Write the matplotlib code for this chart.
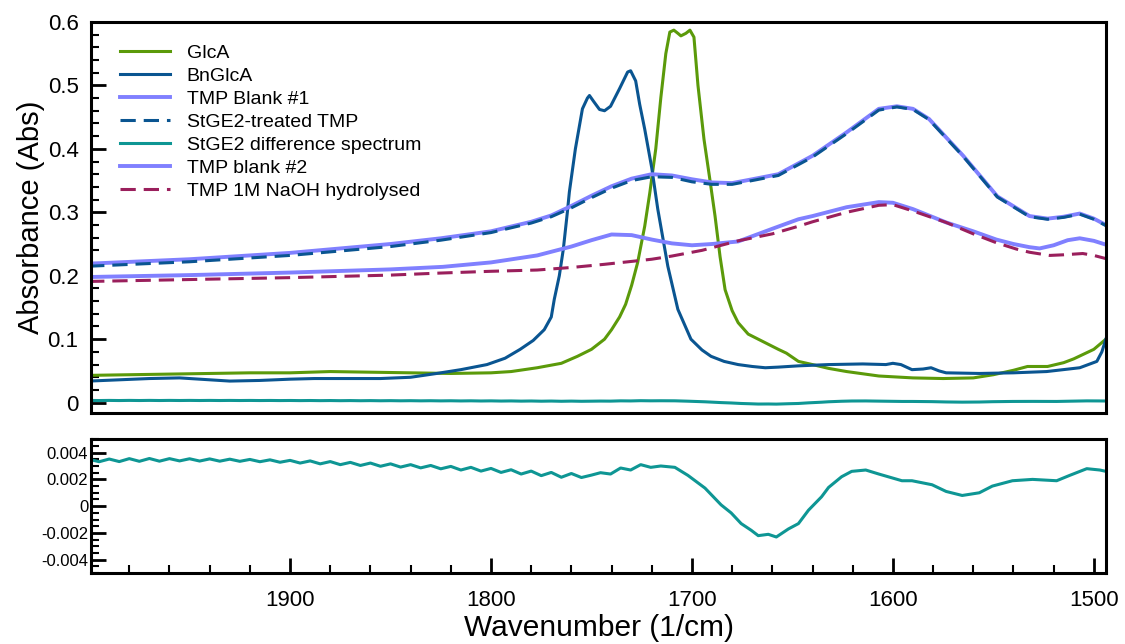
import numpy as np
import matplotlib
matplotlib.use("Agg")
import matplotlib.pyplot as plt
from matplotlib.ticker import MultipleLocator, FuncFormatter

plt.rcParams['font.family'] = ['Liberation Sans', 'DejaVu Sans']

# --- spectra (wavenumber in 1/cm, absorbance) ---
glca_wn = [2000, 1980, 1960, 1940, 1920, 1900, 1880, 1860, 1840, 1820, 1800, 1790, 1777,
           1765, 1757, 1750, 1743.5, 1740, 1736, 1733, 1730, 1727, 1723.5, 1721, 1718,
           1715.5, 1713, 1711, 1709, 1707, 1705.5, 1703, 1701, 1699, 1697, 1694, 1691,
           1688.5, 1686, 1683.5, 1680, 1677, 1672, 1667, 1662, 1657, 1653, 1647, 1640,
           1632, 1623, 1607, 1590, 1575, 1560, 1550, 1540, 1533, 1523, 1515, 1510, 1500,
           1497, 1494]
glca_abs = [0.043, 0.044, 0.045, 0.046, 0.047, 0.047, 0.049, 0.048, 0.047, 0.046, 0.047,
            0.049, 0.055, 0.062, 0.073, 0.084, 0.100, 0.115, 0.135, 0.155, 0.185, 0.221,
            0.278, 0.330, 0.400, 0.480, 0.550, 0.584, 0.587, 0.582, 0.578, 0.582, 0.587,
            0.576, 0.500, 0.415, 0.350, 0.294, 0.230, 0.178, 0.145, 0.126, 0.108, 0.100,
            0.092, 0.084, 0.078, 0.065, 0.060, 0.054, 0.049, 0.042, 0.039, 0.038, 0.039,
            0.044, 0.051, 0.057, 0.057, 0.063, 0.069, 0.084, 0.092, 0.100]

bn_wn = [2000, 1985, 1970, 1955, 1940, 1930, 1915, 1900, 1888, 1870, 1855, 1840, 1827,
         1815, 1802, 1793, 1785.5, 1779, 1773.5, 1770, 1768.5, 1766, 1764, 1762, 1761,
         1758, 1754.5, 1752, 1751, 1749, 1746, 1743.5, 1740.5, 1736, 1732, 1730.5, 1728,
         1726, 1723.5, 1720, 1717, 1712, 1707, 1700.5, 1695, 1690.5, 1684, 1677, 1670,
         1663.5, 1657, 1647, 1632, 1615, 1603.5, 1600, 1596, 1590.5, 1585, 1581, 1577,
         1573.5, 1557, 1540, 1523.5, 1507, 1498.5, 1496, 1494]
bn_abs = [0.034, 0.036, 0.038, 0.039, 0.036, 0.034, 0.035, 0.037, 0.038, 0.038, 0.038,
          0.040, 0.046, 0.052, 0.060, 0.070, 0.084, 0.098, 0.115, 0.135, 0.163, 0.200,
          0.242, 0.300, 0.332, 0.400, 0.463, 0.480, 0.484, 0.475, 0.462, 0.460, 0.467,
          0.495, 0.521, 0.523, 0.507, 0.470, 0.431, 0.370, 0.305, 0.215, 0.147, 0.100,
          0.083, 0.073, 0.065, 0.060, 0.057, 0.055, 0.056, 0.058, 0.060, 0.061, 0.060,
          0.062, 0.060, 0.052, 0.053, 0.055, 0.050, 0.047, 0.046, 0.047, 0.049, 0.055,
          0.065, 0.080, 0.100]

blank1_wn = [2000, 1950, 1900, 1850, 1825, 1800, 1780, 1770, 1760, 1750, 1740, 1730,
             1720, 1710, 1700, 1690, 1680, 1670, 1657, 1640, 1623, 1607, 1598, 1590,
             1582, 1565, 1548, 1532, 1523, 1515, 1507, 1500, 1494]
blank1_abs = [0.219, 0.226, 0.236, 0.250, 0.259, 0.270, 0.285, 0.295, 0.310, 0.326,
              0.341, 0.353, 0.360, 0.358, 0.352, 0.347, 0.346, 0.352, 0.360, 0.389,
              0.426, 0.463, 0.467, 0.463, 0.447, 0.389, 0.325, 0.294, 0.290, 0.293,
              0.298, 0.290, 0.280]

treated_wn = blank1_wn
treated_abs = [0.215, 0.222, 0.232, 0.246, 0.256, 0.268, 0.283, 0.293, 0.307, 0.323,
               0.338, 0.350, 0.356, 0.355, 0.348, 0.344, 0.344, 0.350, 0.358, 0.387,
               0.424, 0.461, 0.466, 0.462, 0.446, 0.388, 0.324, 0.293, 0.289, 0.292,
               0.297, 0.289, 0.279]

blank2_wn = [2000, 1950, 1900, 1850, 1824, 1800, 1777, 1760, 1750, 1740, 1730, 1720,
             1710, 1700, 1690, 1677, 1660, 1647, 1640, 1623, 1607, 1600, 1590, 1573.5,
             1560, 1548.5, 1540, 1532, 1527, 1520, 1513, 1507, 1500, 1494]
blank2_abs = [0.198, 0.201, 0.205, 0.210, 0.214, 0.221, 0.232, 0.246, 0.256, 0.265,
              0.264, 0.257, 0.251, 0.248, 0.250, 0.254, 0.274, 0.289, 0.294, 0.308,
              0.316, 0.315, 0.305, 0.284, 0.270, 0.257, 0.250, 0.245, 0.243, 0.248,
              0.256, 0.259, 0.255, 0.249]

naoh_wn = [2000, 1950, 1900, 1850, 1827, 1800, 1777, 1760, 1743.5, 1720, 1710, 1695,
           1677, 1660, 1647, 1640, 1623, 1607, 1600, 1590, 1573.5, 1560, 1548.5, 1538.5,
           1532, 1522, 1515, 1505.5, 1500, 1494]
naoh_abs = [0.191, 0.194, 0.197, 0.201, 0.204, 0.207, 0.209, 0.213, 0.218, 0.226,
            0.231, 0.240, 0.255, 0.266, 0.278, 0.285, 0.300, 0.311, 0.312, 0.302,
            0.284, 0.266, 0.252, 0.242, 0.237, 0.232, 0.233, 0.235, 0.232, 0.227]

# StGE2 difference spectrum
diff_wn = [2000, 1995, 1990, 1985, 1980, 1975, 1970, 1965, 1960, 1955, 1950, 1945, 1940,
           1935, 1930, 1925, 1920, 1915, 1910, 1905, 1900, 1895, 1890, 1885, 1880, 1875,
           1870, 1865, 1860, 1855, 1850, 1845, 1840, 1835, 1830, 1825, 1820, 1815, 1810,
           1805, 1800, 1795, 1790, 1785, 1780, 1775, 1770, 1765, 1760, 1755, 1750,
           1745.5, 1740.5, 1735.5, 1730.5, 1725.5, 1720.5, 1715.5, 1708.5, 1702, 1693.5,
           1685.5, 1680.5, 1675.5, 1670.5, 1667, 1662, 1658, 1652, 1647, 1642, 1635.5,
           1632, 1625.5, 1620.5, 1613.5, 1607, 1595.5, 1590.5, 1580.5, 1573.5, 1565.5,
           1557, 1550.5, 1540.5, 1530.5, 1518.5, 1512, 1503.5, 1497, 1494]
diff_abs = [0.00350, 0.00332, 0.00352, 0.00333, 0.00355, 0.00335, 0.00356, 0.00336,
            0.00355, 0.00338, 0.00354, 0.00337, 0.00353, 0.00336, 0.00351, 0.00335,
            0.00349, 0.00332, 0.00346, 0.00328, 0.00342, 0.00322, 0.00338, 0.00316,
            0.00333, 0.00310, 0.00327, 0.00304, 0.00322, 0.00298, 0.00316, 0.00292,
            0.00310, 0.00286, 0.00304, 0.00279, 0.00297, 0.00270, 0.00290, 0.00262,
            0.00282, 0.00252, 0.00272, 0.00240, 0.00262, 0.00228, 0.00252, 0.00216,
            0.00244, 0.00214, 0.00232,
            0.0025, 0.0024, 0.00285, 0.0027, 0.0031, 0.0029, 0.0030, 0.0029, 0.0023,
            0.00135, 0.0001, -0.0005, -0.0013, -0.0018, -0.0022, -0.0021, -0.0023,
            -0.0017, -0.0013, -0.0003, 0.0007, 0.0014, 0.0022, 0.0026, 0.0027, 0.0024,
            0.0019, 0.0019, 0.0016, 0.0011, 0.0008, 0.0010, 0.0015, 0.0019, 0.0020,
            0.0019, 0.0023, 0.0028, 0.0027, 0.0026]

c_green = '#5b9a0a'
c_navy = '#0a5591'
c_lilac = '#8080ff'
c_teal = '#0e9694'
c_maroon = '#9a1f5c'

lw = 2.2
dash = (5, 2.6)

fig = plt.figure(figsize=(11.25, 6.44), dpi=100)
ax1 = fig.add_axes([0.081, 0.359, 0.902, 0.607])
ax2 = fig.add_axes([0.081, 0.110, 0.902, 0.208])

ax1.plot(glca_wn, glca_abs, color=c_green, lw=lw, label='GlcA')
ax1.plot(bn_wn, bn_abs, color=c_navy, lw=lw, label='BnGlcA')
ax1.plot(blank1_wn, blank1_abs, color=c_lilac, lw=lw + 0.6, label='TMP Blank #1')
ax1.plot(treated_wn, treated_abs, color=c_navy, lw=lw, dashes=dash,
         label='StGE2-treated TMP')
ax1.plot(diff_wn, diff_abs, color=c_teal, lw=lw, label='StGE2 difference spectrum')
ax1.plot(blank2_wn, blank2_abs, color=c_lilac, lw=lw + 0.6, label='TMP blank #2')
ax1.plot(naoh_wn, naoh_abs, color=c_maroon, lw=lw, dashes=dash,
         label='TMP 1M NaOH hydrolysed')

ax2.plot(diff_wn, diff_abs, color=c_teal, lw=lw)

fmt = FuncFormatter(lambda v, p: '{:g}'.format(round(v, 6)))

for ax in (ax1, ax2):
    ax.set_xlim(1999, 1494)
    for s in ax.spines.values():
        s.set_linewidth(2.2)
    ax.xaxis.set_major_locator(MultipleLocator(100))
    ax.xaxis.set_minor_locator(MultipleLocator(20))
    ax.yaxis.set_major_formatter(fmt)

ax1.set_ylim(-0.016, 0.6)
ax1.yaxis.set_major_locator(MultipleLocator(0.1))
ax1.yaxis.set_minor_locator(MultipleLocator(0.02))
ax1.tick_params(axis='x', which='both', bottom=False, labelbottom=False)
ax1.tick_params(axis='y', which='major', direction='in', length=11, width=2.0,
                labelsize=16, pad=9)
ax1.tick_params(axis='y', which='minor', direction='in', length=6, width=1.5)
ax1.set_ylabel('Absorbance (Abs)', fontsize=21, labelpad=2)

ax2.set_ylim(-0.005, 0.005)
ax2.yaxis.set_major_locator(MultipleLocator(0.002))
ax2.yaxis.set_minor_locator(MultipleLocator(0.0005))
ax2.tick_params(axis='y', which='major', direction='in', length=11, width=2.0,
                labelsize=12, pad=2)
ax2.tick_params(axis='y', which='minor', direction='in', length=6, width=1.5)
ax2.tick_params(axis='x', which='major', direction='in', length=11, width=2.0,
                labelsize=16, pad=12)
ax2.tick_params(axis='x', which='minor', direction='in', length=6, width=1.5)
ax2.set_xlabel('Wavenumber (1/cm)', fontsize=21.5, labelpad=2)

ax1.legend(loc='upper left', bbox_to_anchor=(0.028, 0.943), frameon=False,
           fontsize=14, handlelength=2.6, handletextpad=0.85, labelspacing=0.28,
           borderpad=0, borderaxespad=0)

fig.savefig('out.png', dpi=100)
